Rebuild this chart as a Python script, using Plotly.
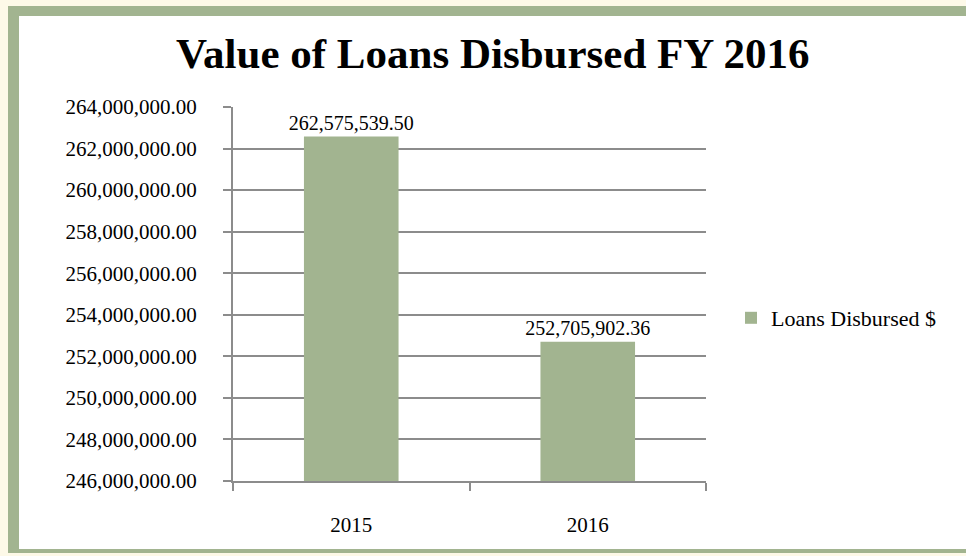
import plotly.graph_objects as go

categories = ["2015", "2016"]
loans_disbursed = [262575539.50, 252705902.36]
y_tick_values = [246e6, 248e6, 250e6, 252e6, 254e6, 256e6, 258e6, 260e6, 262e6, 264e6]
y_tick_labels = ["246,000,000.00", "248,000,000.00", "250,000,000.00", "252,000,000.00",
                 "254,000,000.00", "256,000,000.00", "258,000,000.00", "260,000,000.00",
                 "262,000,000.00", "264,000,000.00"]
series_name = "Loans Disbursed $"
title_text = "Value of Loans Disbursed FY 2016"

FONT = "Palatino Linotype, Book Antiqua, Palatino, Liberation Serif, serif"
W, H = 966, 556
L, R, T, B = 233, 260, 107, 75
pw, ph = W - L - R, H - T - B

def px(x):
    return (x - L) / pw

def py(y):
    return (H - B - y) / ph

fig = go.Figure()
fig.add_trace(go.Bar(
    x=categories, y=loans_disbursed, name=series_name,
    marker=dict(color="#a2b490", line=dict(width=0)),
    width=0.4,
    texttemplate="%{y:,.2f}", textposition="outside", constraintext="none",
    textfont=dict(family=FONT, size=20, color="#000000"),
    cliponaxis=False, showlegend=True,
))

shapes = [
    dict(type="rect", xref="paper", yref="paper", x0=px(8), x1=px(980), y0=py(553), y1=py(6),
         fillcolor="#a2b490", line=dict(width=0), layer="below"),
    dict(type="rect", xref="paper", yref="paper", x0=px(19), x1=px(980), y0=py(549), y1=py(16),
         fillcolor="#ffffff", line=dict(width=0), layer="below"),
]

fig.update_layout(
    width=W, height=H,
    margin=dict(l=L, r=R, t=T, b=B, pad=0),
    paper_bgcolor="#fdf9e8", plot_bgcolor="#ffffff",
    font=dict(family=FONT, color="#000000", size=18),
    shapes=shapes,
    showlegend=True,
    legend=dict(x=px(731), y=py(318), xanchor="left", yanchor="middle",
                font=dict(family=FONT, size=22, color="#000000"),
                bgcolor="rgba(0,0,0,0)", itemwidth=30),
    annotations=[dict(text="<b>" + title_text + "</b>", x=px(493), y=py(53),
                      xref="paper", yref="paper", showarrow=False,
                      xanchor="center", yanchor="middle",
                      font=dict(family=FONT, size=43, color="#000000"))],
)

fig.update_yaxes(
    range=[246e6, 264e6], tickmode="array", tickvals=y_tick_values, ticktext=y_tick_labels,
    showgrid=True, gridcolor="#8c8c8c", gridwidth=2,
    showline=True, linecolor="#8c8c8c", linewidth=2,
    ticks="outside", ticklen=8, tickcolor="#8c8c8c", tickwidth=2,
    ticklabelstandoff=22, zeroline=False,
    tickfont=dict(family=FONT, size=21, color="#000000"),
)
fig.update_xaxes(
    showline=True, linecolor="#8c8c8c", linewidth=2,
    ticks="outside", ticklen=8, tickcolor="#8c8c8c", tickwidth=2,
    tickson="boundaries", ticklabelstandoff=24,
    tickfont=dict(family=FONT, size=21, color="#000000"),
    showgrid=False,
)

fig.write_html(
    "out.html",
    config={"displayModeBar": False},
    post_script="document.body.style.margin='0';document.body.style.background='#fdf9e8';",
)
